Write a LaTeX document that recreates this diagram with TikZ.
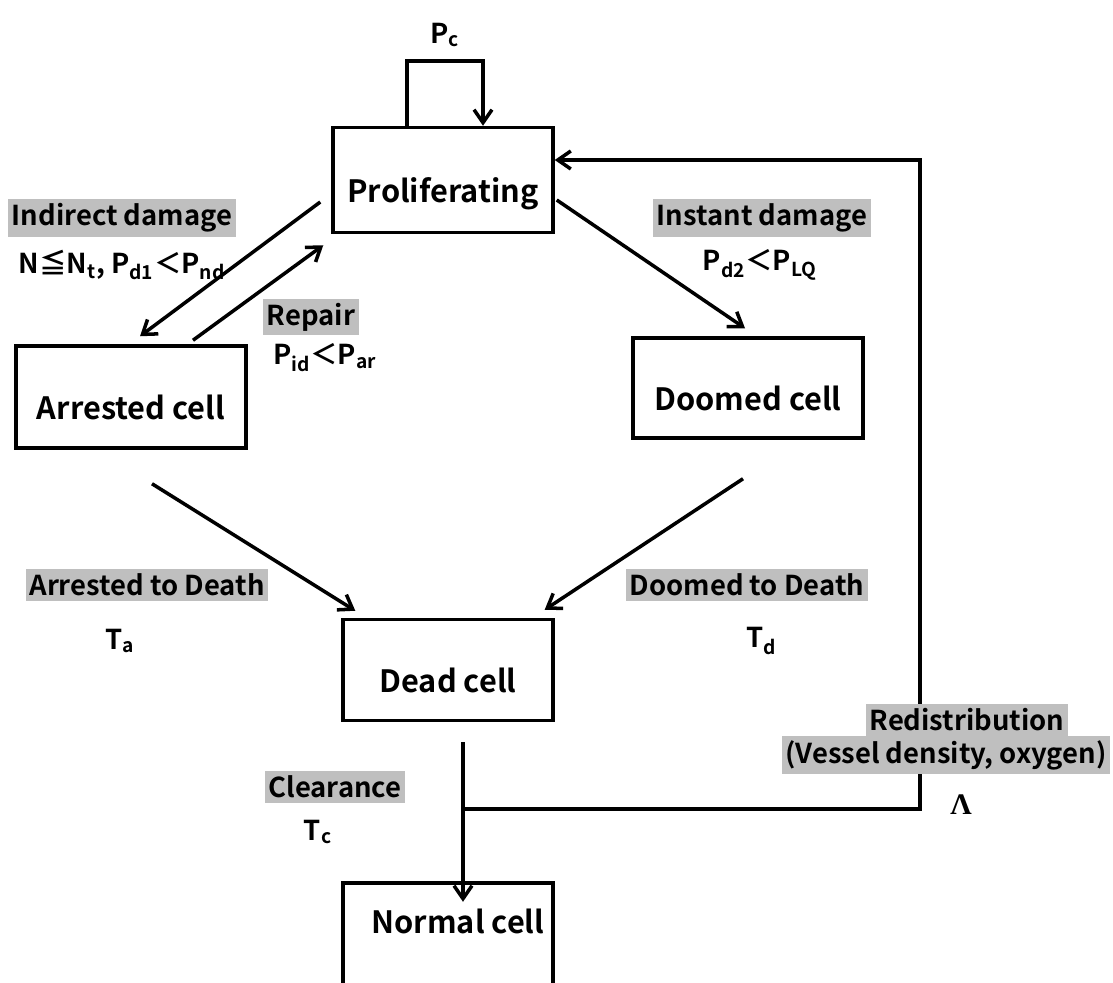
\documentclass[tikz,border=0pt]{standalone}
\usepackage{fontspec}
\setmainfont{Noto Sans CJK JP}[BoldFont=* Bold]
\newfontfamily\lamfont{Liberation Serif}
\usetikzlibrary{arrows.meta, calc}
\tikzset{
  cellbox/.style={draw, line width=2pt, inner sep=0pt, text height=0.92cm, text depth=0pt,
    font=\fontsize{17.5}{20}\selectfont\bfseries},
  tag/.style={fill=black!25, inner xsep=2pt, inner ysep=2.5pt, font=\fontsize{15.6}{18}\selectfont\bfseries},
  note/.style={inner sep=1pt, font=\fontsize{15.6}{18}\selectfont\bfseries},
  arr/.style={-{Straight Barb[length=0.26cm,width=0.36cm]}},
}

\begin{document}
\begin{tikzpicture}[x=0.02cm, y=-0.02cm, line width=2pt]
  \useasboundingbox (0,0) rectangle (1113,983);
  \clip (0,0) rectangle (1113,983);
  % cells
  \node[cellbox, minimum width=4.4cm, minimum height=2.1cm] (prolif) at (443,180) {Proliferating};
  \node[cellbox, minimum width=4.6cm, minimum height=2.04cm] (arrested) at (131,397) {Arrested cell};
  \node[cellbox, minimum width=4.6cm, minimum height=2cm] (doomed) at (748,388) {Doomed cell};
  \node[cellbox, minimum width=4.2cm, minimum height=2.02cm] (dead) at (448,670) {Dead cell};
  \node[font=\fontsize{17.5}{20}\selectfont\bfseries, minimum width=4.2cm, inner sep=0pt] (normal) at (458,921) {Normal cell};
  \draw ($(normal.center)+(-115,80)$) -- ($(normal.center)+(-115,-38)$) -- ($(normal.center)+(95,-38)$) -- ($(normal.center)+(95,80)$);
  % self loop
  \draw[arr] ($(prolif.north)+(-36,0)$) -- ($(prolif.north)+(-36,-65)$) -- ($(prolif.north)+(40,-65)$) -- ($(prolif.north)+(40,0)$);
  \node[note] (pc) at (445,35) {P\textsubscript{c}};
  % transitions
  \draw[arr] ($(prolif.west)+(-11,22)$) -- ($(arrested.north)+(9,-8)$);
  \draw[arr] ($(arrested.north)+(62,-4)$) -- ($(prolif.south west)+(-8,11)$);
  \draw[arr] ($(prolif.east)+(2,20)$) -- ($(doomed.north)+(-3,-8)$);
  \draw[arr] ($(arrested.south)+(21,34)$) -- ($(dead.north west)+(14,-7)$);
  \draw[arr] ($(doomed.south)+(-5,39)$) -- ($(dead.north east)+(-10,-8)$);
  \draw[arr] ($(dead.south)+(15,20)$) -- ($(normal.north)+(5,-5)$);
  \coordinate (branch) at ($(dead.south)+(15,87)$);
  \draw[arr] (branch) -- ++(457,0) |- ($(prolif.east)+(0,-20)$);
  % labels
  \node[tag] (indirect) at (122,218) {Indirect damage};
  \node[note] (indcond) at (122,265) {N≦N\textsubscript{t}, P\textsubscript{d1}＜P\textsubscript{nd}};
  \node[tag] (repair) at (311,317) {Repair};
  \node[note] (repcond) at (325,358) {P\textsubscript{id}＜P\textsubscript{ar}};
  \node[tag] (instant) at (762,218) {Instant damage};
  \node[note] (inscond) at (760,265) {P\textsubscript{d2}＜P\textsubscript{LQ}};
  \node[tag] (atod) at (147,585) {Arrested to Death};
  \node[note] (ta) at (120,641) {T\textsubscript{a}};
  \node[tag] (dtod) at (747,585) {Doomed to Death};
  \node[note] (td) at (762,641) {T\textsubscript{d}};
  \node[tag] (clear) at (335,787) {Clearance};
  \node[note] (tc) at (318,832) {T\textsubscript{c}};
  \node[tag] (redist) at (967,720) {Redistribution};
  \node[tag] (vessel) at (946,755) {(Vessel density, oxygen)};
  \node[note, font=\fontsize{17}{19}\lamfont\bfseries] (lam) at (961,805) {Λ};
\end{tikzpicture}
\end{document}
